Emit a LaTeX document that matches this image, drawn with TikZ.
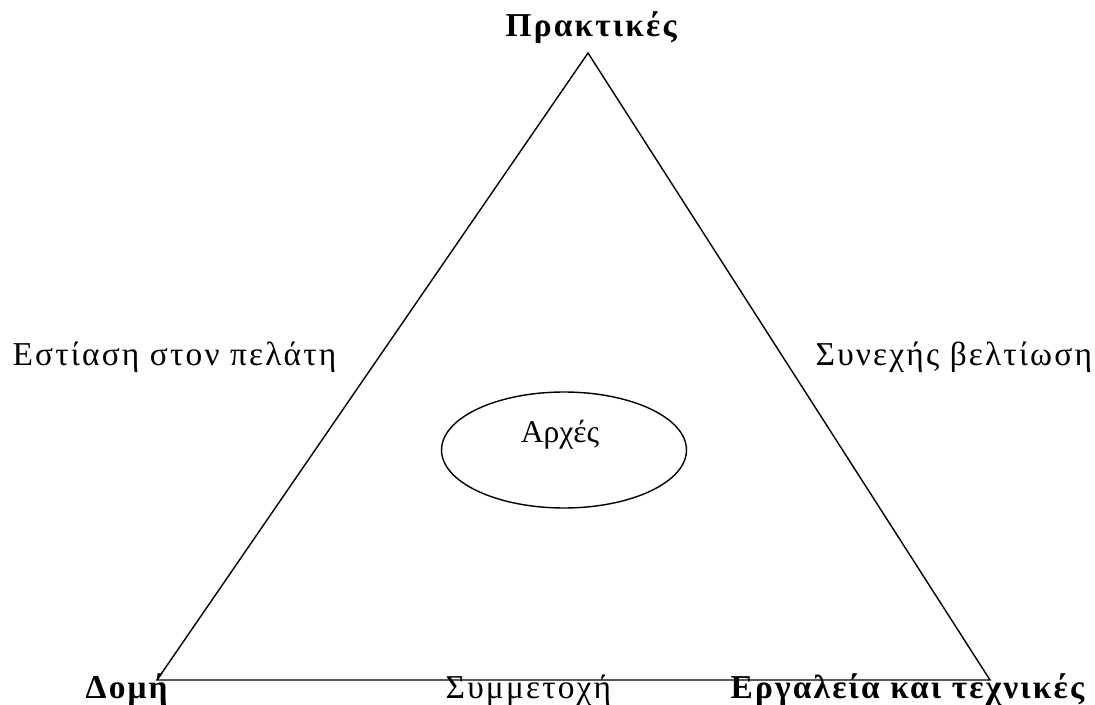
\documentclass[tikz,border=0pt]{standalone}
\usepackage{fontspec}
\setmainfont{Liberation Serif}
\newfontfamily\spaced[LetterSpace=6.5]{Liberation Serif}
\usepackage{tikz}
\usetikzlibrary{shapes.geometric}

\begin{document}
\begin{tikzpicture}[x=0.02cm,y=-0.02cm,line width=0.8pt,
	lbl/.style={anchor=base west,inner sep=0pt,font=\spaced\fontsize{19}{22}\selectfont},
	blbl/.style={lbl,font=\spaced\bfseries\fontsize{19}{22}\selectfont}]
				\useasboundingbox (0,0) rectangle (1095,705);
				\coordinate (top) at (588,53);
				\coordinate (left) at (157,680);
				\coordinate (right) at (990,680);
				\draw (top) -- (left) -- (right) -- cycle;
				\node[draw,ellipse,minimum width=4.9cm,minimum height=2.32cm,inner sep=0pt] (arches) at (564,450) {};
				\node[anchor=base,inner sep=0pt,font=\fontsize{18}{20}\selectfont] (archestext) at (560,443) {Αρχές};
				\node[blbl] (praktikes) at (505,37) {Πρακτικές};
				\node[lbl] (pelatis) at (12,366) {Εστίαση στον πελάτη};
				\node[lbl] (veltiosi) at (815,366) {Συνεχής βελτίωση};
				\node[blbl] (domi) at (85,698) {Δομή};
				\node[lbl] (symmetoxi) at (445,698) {Συμμετοχή};
				\node[blbl] (ergaleia) at (730,698) {Εργαλεία και τεχνικές};
				\end{tikzpicture}
\end{document}
